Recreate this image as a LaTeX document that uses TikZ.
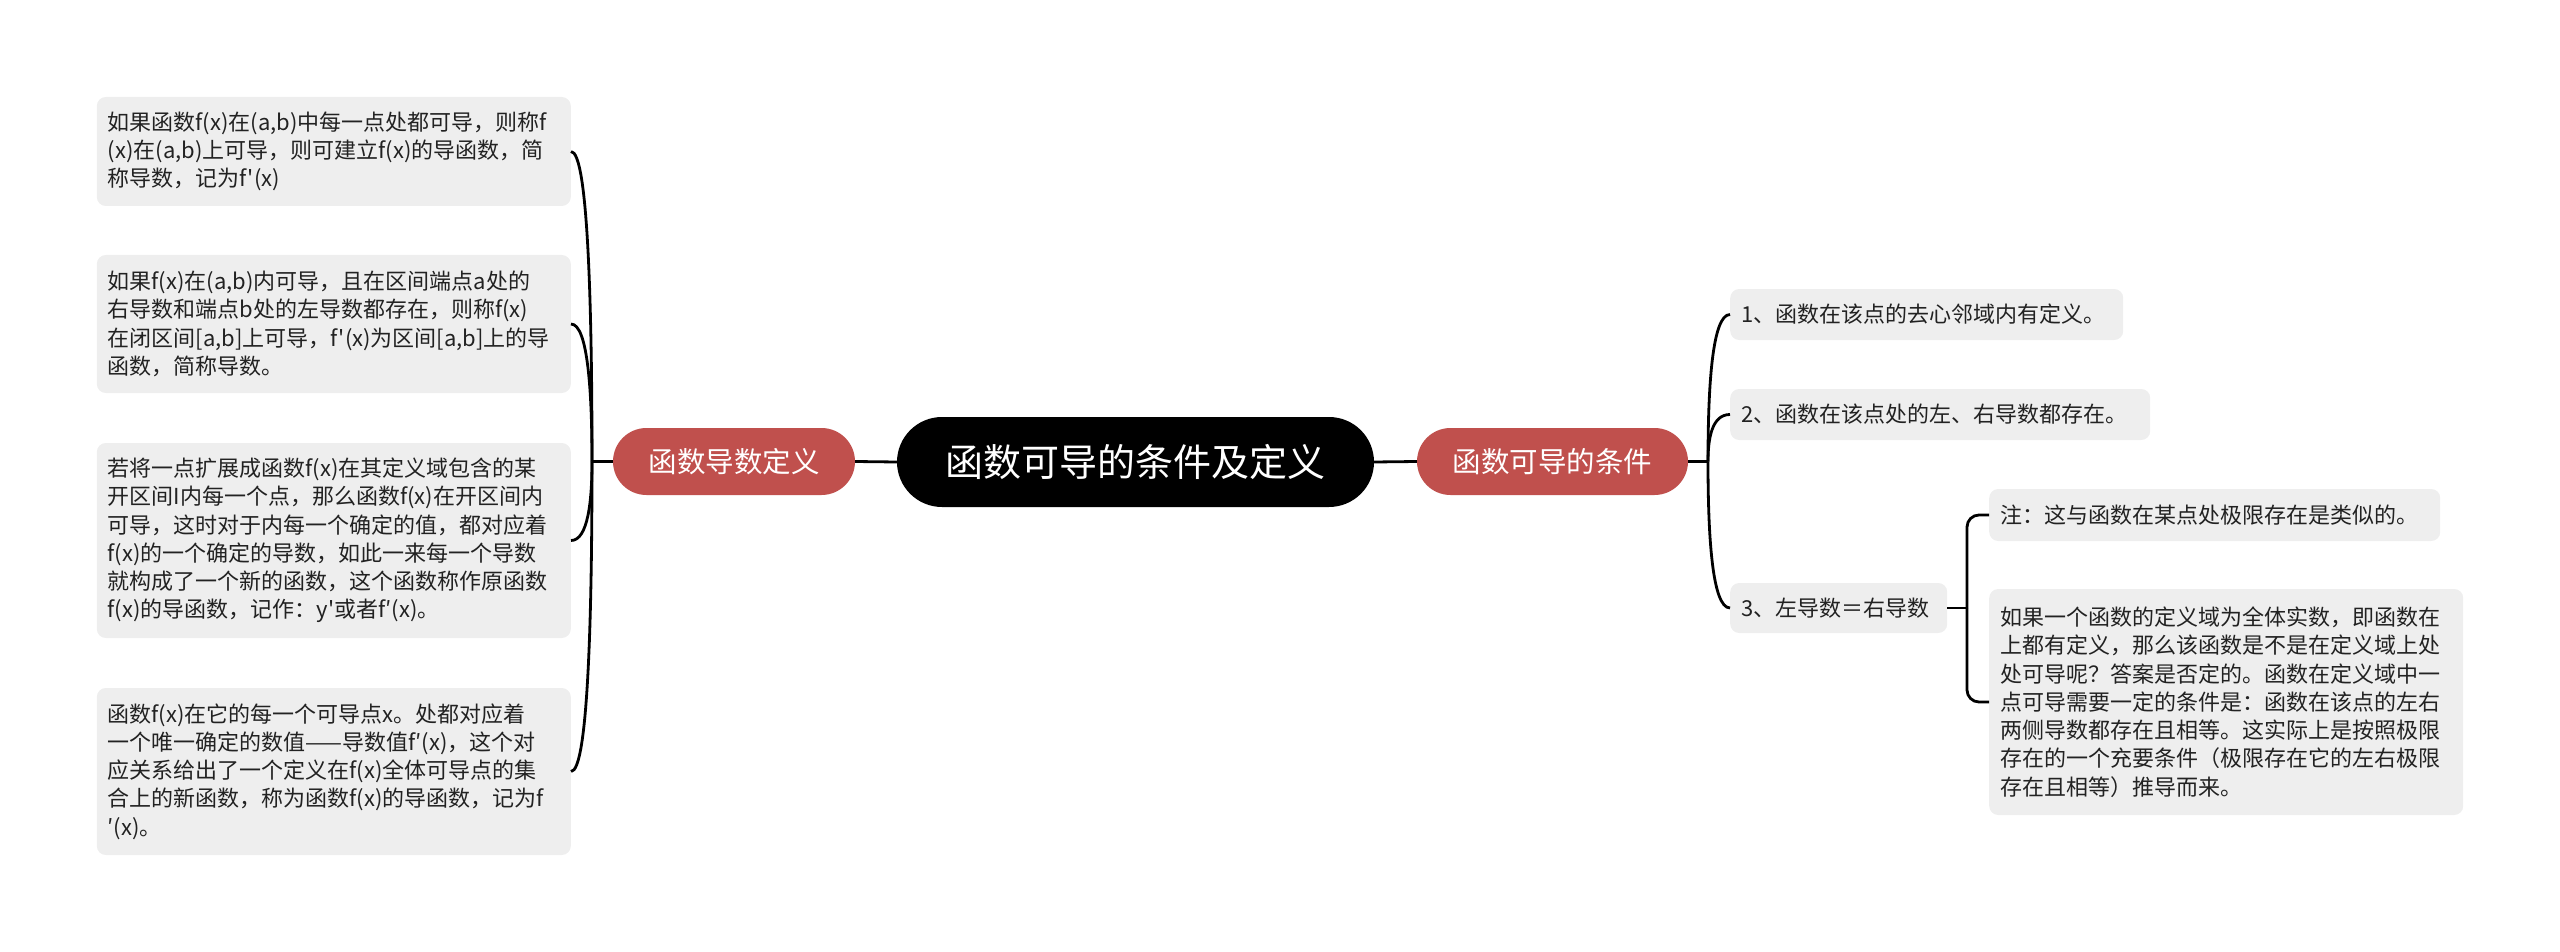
\documentclass[tikz,border=0pt]{standalone}
\usepackage{fontspec}
\newfontfamily\cjk{Noto Sans CJK SC}
\usetikzlibrary{calc}
\definecolor{boxgray}{HTML}{EEEEEE}
\definecolor{mainred}{HTML}{C0504D}
\definecolor{textc}{HTML}{222222}
\tikzset{
  box/.style={fill=boxgray, rounded corners=9pt, inner xsep=11pt, inner ysep=0pt,
    align=left, text=textc, font={\cjk\fontsize{22}{28.3}\selectfont}},
  mainnode/.style={fill=mainred, rounded corners=33.5pt, minimum height=67pt, inner sep=0pt,
    text=white, font={\cjk\fontsize{28.5}{32}\selectfont}},
  rootnode/.style={fill=black, rounded corners=45pt, minimum height=90pt, inner sep=0pt,
    text=white, font={\cjk\fontsize{38}{42}\selectfont}},
  conn/.style={draw=black, line width=2.8pt}
}
\begin{document}
\begin{tikzpicture}[x=1pt,y=-1pt]
\useasboundingbox (0,0) rectangle (2560,952);

% central and main nodes
\node[rootnode, minimum width=477pt] (root) at (1135.5,462) {函数可导的条件及定义};
\node[mainnode, minimum width=242pt] (lm) at (734,461.5) {函数导数定义};
\node[mainnode, minimum width=271pt] (rm) at (1552.5,461.5) {函数可导的条件};

% left boxes
\node[box, anchor=east, text width=452pt, minimum height=109pt] (b1) at (571,151.5)
  {如果函数f(x)在(a,b)中每一点处都可导，则称f\\(x)在(a,b)上可导，则可建立f(x)的导函数，简\\称导数，记为f'(x)};
\node[box, anchor=east, text width=452pt, minimum height=138pt] (b2) at (571,324)
  {如果f(x)在(a,b)内可导，且在区间端点a处的\\右导数和端点b处的左导数都存在，则称f(x)\\在闭区间[a,b]上可导，f'(x)为区间[a,b]上的导\\函数，简称导数。};
\node[box, anchor=east, text width=452pt, minimum height=195pt] (b3) at (571,540.5)
  {若将一点扩展成函数f(x)在其定义域包含的某\\开区间I内每一个点，那么函数f(x)在开区间内\\可导，这时对于内每一个确定的值，都对应着\\f(x)的一个确定的导数，如此一来每一个导数\\就构成了一个新的函数，这个函数称作原函数\\f(x)的导函数，记作：y'或者f′(x)。};
\node[box, anchor=east, text width=452pt, minimum height=167pt] (b4) at (571,771.5)
  {函数f(x)在它的每一个可导点x。处都对应着\\一个唯一确定的数值——导数值f′(x)，这个对\\应关系给出了一个定义在f(x)全体可导点的集\\合上的新函数，称为函数f(x)的导函数，记为f\\′(x)。};

% right boxes
\node[box, anchor=west, text width=371pt, minimum height=51pt] (r1) at (1730,314.5)
  {1、函数在该点的去心邻域内有定义。};
\node[box, anchor=west, text width=398pt, minimum height=51pt] (r2) at (1730,414.5)
  {2、函数在该点处的左、右导数都存在。};
\node[box, anchor=west, text width=195pt, minimum height=50pt] (r3) at (1730,608)
  {3、左导数＝右导数};
\node[box, anchor=west, text width=429pt, minimum height=52pt] (s1) at (1989,515)
  {注：这与函数在某点处极限存在是类似的。};
\node[box, anchor=west, text width=452pt, minimum height=226pt] (s2) at (1989,702)
  {如果一个函数的定义域为全体实数，即函数在\\上都有定义，那么该函数是不是在定义域上处\\处可导呢？答案是否定的。函数在定义域中一\\点可导需要一定的条件是：函数在该点的左右\\两侧导数都存在且相等。这实际上是按照极限\\存在的一个充要条件（极限存在它的左右极限\\存在且相等）推导而来。};

% connectors
\draw[conn] (root.west) -- (lm.east);
\draw[conn] (root.east) -- (rm.west);

\coordinate (lj) at (592,461.5);
\draw[conn] (lm.west) -- (lj);
\foreach \c in {b1,b2,b3,b4}{
  \draw[conn] (lj) .. controls ($(lj)!0.5!(lj |- \c.east)$) and ($(\c.east)+(17,0)$) .. (\c.east);
}

\coordinate (rj) at (1708,461.5);
\draw[conn] (rm.east) -- (rj);
\foreach \c in {r1,r2,r3}{
  \draw[conn] (rj) .. controls ($(rj)!0.5!(rj |- \c.west)$) and ($(\c.west)+(-18,0)$) .. (\c.west);
}

\coordinate (sj) at (1967,608);
\draw[conn] (r3.east) -- (sj);
\draw[conn, rounded corners=12pt] (sj) |- (s1.west);
\draw[conn, rounded corners=12pt] (sj) |- (s2.west);
\end{tikzpicture}
\end{document}
